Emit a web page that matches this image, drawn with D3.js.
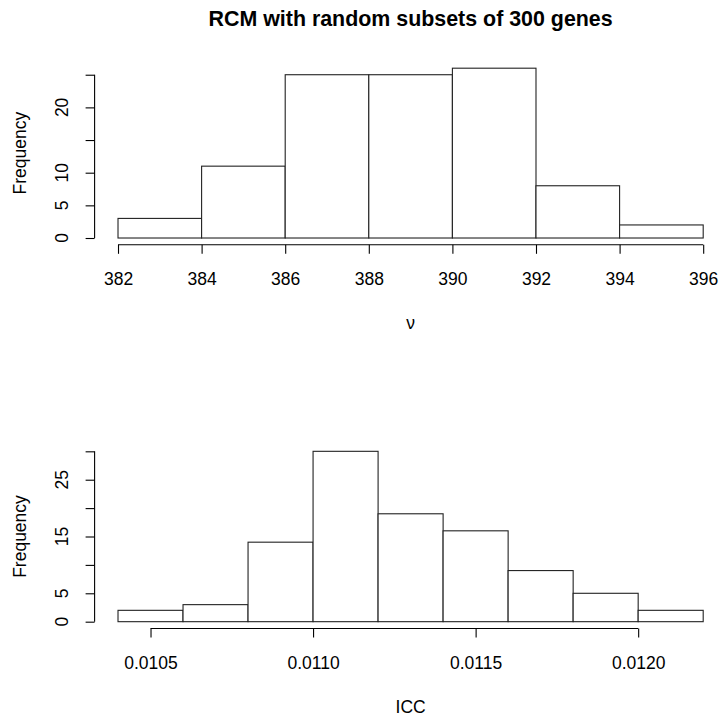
<!DOCTYPE html>
<html>
<head>
<meta charset="utf-8">
<script src="https://cdn.jsdelivr.net/npm/d3@7"></script>
<style>
  body { margin: 0; background: #fff; }
  text { font-family: "Liberation Sans", Arial, sans-serif; }
</style>
</head>
<body>
<div id="d3-container"></div>
<script>
// histogram of nu
const nuBreaks = [382, 384, 386, 388, 390, 392, 394, 396];
const nuCounts = [3, 11, 25, 25, 26, 8, 2];
const nuXTicks = [382, 384, 386, 388, 390, 392, 394, 396];
const nuYTicks = [0, 5, 10, 15, 20, 25];
const nuYLabels = [0, 5, 10, 20];

// histogram of ICC
const iccBreaks = [0.0104, 0.0106, 0.0108, 0.0110, 0.0112, 0.0114, 0.0116, 0.0118, 0.0120, 0.0122];
const iccCounts = [2, 3, 14, 30, 19, 16, 9, 5, 2];
const iccXTicks = [0.0105, 0.0110, 0.0115, 0.0120];
const iccYTicks = [0, 5, 10, 15, 20, 25, 30];
const iccYLabels = [0, 5, 15, 25];

const width = 721;
const height = 719;
const fontSize = 17.5;

const svg = d3.select('#d3-container')
  .append('svg')
  .attr('width', width)
  .attr('height', height)
  .attr('viewBox', [0, 0, width, height]);

// R-like plot region: x and y ranges padded by 4%
function pad(lo, hi) {
  const d = (hi - lo) * 0.04;
  return [lo - d, hi + d];
}

function drawHist(opts) {
  const { breaks, counts, xTicks, yTicks, yLabels, xFormat, top, bottom, xLabel } = opts;
  const left = 94.6, right = 726.6;

  const x = d3.scaleLinear()
    .domain(pad(breaks[0], breaks[breaks.length - 1]))
    .range([left, right]);

  const y = d3.scaleLinear()
    .domain(pad(0, d3.max(counts)))
    .range([bottom, top]);

  const bins = counts.map((c, i) => ({ x0: breaks[i], x1: breaks[i + 1], n: c }));

  svg.append('g')
    .attr('fill', '#fff')
    .attr('stroke', '#222')
    .attr('stroke-width', 1.1)
    .selectAll('rect')
    .data(bins)
    .join('rect')
      .attr('x', d => x(d.x0))
      .attr('y', d => y(d.n))
      .attr('width', d => x(d.x1) - x(d.x0))
      .attr('height', d => y(0) - y(d.n));

  // x axis
  const gx = svg.append('g')
    .attr('transform', `translate(0, ${bottom})`)
    .call(d3.axisBottom(x).tickValues(xTicks).tickSize(9).tickPadding(18.6).tickFormat(xFormat));
  gx.select('.domain').remove();
  gx.append('line')
    .attr('x1', x(xTicks[0]))
    .attr('x2', x(xTicks[xTicks.length - 1]))
    .attr('stroke', '#000');
  gx.selectAll('line').attr('stroke', '#000').attr('stroke-width', 1.1);
  gx.selectAll('text')
    .attr('font-family', '"Liberation Sans", Arial, sans-serif')
    .attr('font-size', fontSize)
    .attr('fill', '#000');

  // y axis
  const gy = svg.append('g')
    .attr('transform', `translate(${left}, 0)`)
    .call(d3.axisLeft(y).tickValues(yTicks).tickSize(9).tickFormat(''));
  gy.select('.domain').remove();
  gy.append('line')
    .attr('y1', y(yTicks[0]))
    .attr('y2', y(yTicks[yTicks.length - 1]));
  gy.selectAll('line').attr('stroke', '#000').attr('stroke-width', 1.1);

  svg.append('g')
    .selectAll('text')
    .data(yLabels)
    .join('text')
      .attr('transform', d => `translate(68, ${y(d)}) rotate(-90)`)
      .attr('text-anchor', 'middle')
      .attr('font-size', fontSize)
      .text(d => d);

  svg.append('text')
    .attr('transform', `translate(25.5, ${(top + bottom) / 2}) rotate(-90)`)
    .attr('text-anchor', 'middle')
    .attr('font-size', fontSize)
    .text('Frequency');

  svg.append('text')
    .attr('x', (left + right) / 2)
    .attr('y', bottom + 84)
    .attr('text-anchor', 'middle')
    .attr('font-size', fontSize)
    .text(xLabel);
}

svg.append('text')
  .attr('x', 410.6)
  .attr('y', 26)
  .attr('text-anchor', 'middle')
  .attr('font-size', 21.4)
  .attr('font-weight', 'bold')
  .text('RCM with random subsets of 300 genes');

drawHist({
  breaks: nuBreaks, counts: nuCounts, xTicks: nuXTicks,
  yTicks: nuYTicks, yLabels: nuYLabels, xFormat: d3.format('d'),
  top: 61.4, bottom: 244.8, xLabel: 'ν'
});

drawHist({
  breaks: iccBreaks, counts: iccCounts, xTicks: iccXTicks,
  yTicks: iccYTicks, yLabels: iccYLabels, xFormat: d3.format('.4f'),
  top: 444.5, bottom: 628.5, xLabel: 'ICC'
});
</script>
</body>
</html>
